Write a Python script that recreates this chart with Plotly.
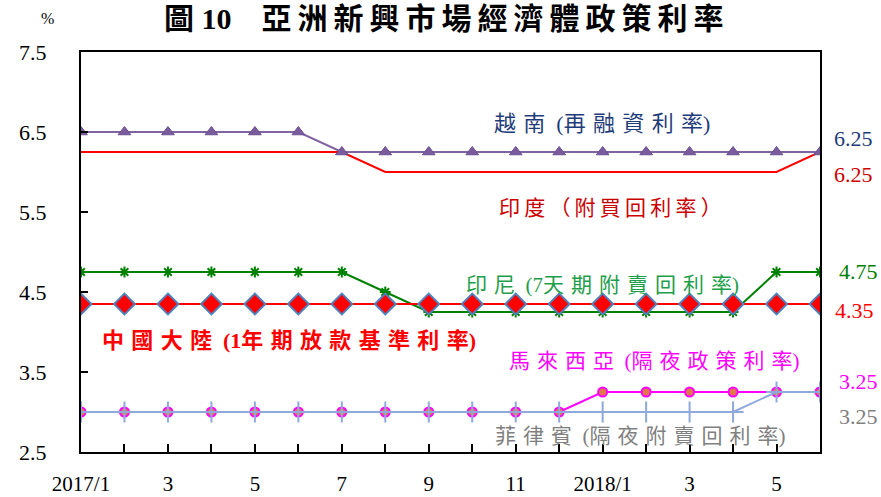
import plotly.graph_objects as go

# Monthly observations, 2017/1 - 2018/6
months = ["2017/1", "2", "3", "4", "5", "6", "7", "8", "9", "10", "11", "12",
          "2018/1", "2", "3", "4", "5", "6"]
tick_labels = ["2017/1", "", "3", "", "5", "", "7", "", "9", "", "11", "",
               "2018/1", "", "3", "", "5", ""]

vietnam = [6.5] * 6 + [6.25] * 12
india = [6.25] * 7 + [6.0] * 10 + [6.25]
indonesia = [4.75] * 7 + [4.5] + [4.25] * 8 + [4.75] * 2
china = [4.35] * 18
malaysia = [3.0] * 12 + [3.25] * 6
philippines = [3.0] * 16 + [3.25] * 2

x = list(range(len(months)))

FONT = "Liberation Serif, Noto Sans CJK TC, serif"
W, H = 881, 497
L, R, T, B = 81, 61, 52, 45
THIN = "\u2009"
WIDE = "\u2004"
EN = "\u2002"


def px_x(p):
    return (p - L) / (W - L - R)


def px_y(p):
    return (H - B - p) / (H - T - B)


def spaced(s, gap=THIN):
    """Open up CJK text a little, in the style of the printed report."""
    out = []
    for i, ch in enumerate(s):
        if ch == " ":
            out.append(EN)
            continue
        out.append(ch)
        if i < len(s) - 1 and ord(ch) > 0x2E80 and ord(s[i + 1]) > 0x2E80:
            out.append(gap)
    return "".join(out)


fig = go.Figure()

fig.add_trace(go.Scatter(x=x, y=india, mode="lines",
                         line=dict(color="#FF0000", width=2), name="India"))
fig.add_trace(go.Scatter(x=x, y=vietnam, mode="lines+markers",
                         line=dict(color="#8064A2", width=2),
                         marker=dict(symbol="triangle-up", size=11, color="#7A5C9E",
                                     line=dict(color="#6A4F8E", width=1)),
                         name="Vietnam"))
fig.add_trace(go.Scatter(x=x, y=indonesia, mode="lines+markers",
                         line=dict(color="#008000", width=2),
                         marker=dict(symbol="asterisk-open", size=9,
                                     line=dict(color="#008000", width=2)),
                         name="Indonesia"))
fig.add_trace(go.Scatter(x=x, y=china, mode="lines+markers",
                         line=dict(color="#FF0000", width=2),
                         marker=dict(symbol="diamond", size=16, color="#FF0000",
                                     line=dict(color="#4F81BD", width=2)),
                         name="China"))
fig.add_trace(go.Scatter(x=x, y=malaysia, mode="lines+markers",
                         line=dict(color="#FF00FF", width=2),
                         marker=dict(symbol="circle", size=9, color="#E0784A",
                                     line=dict(color="#FF00FF", width=2)),
                         name="Malaysia"))
fig.add_trace(go.Scatter(x=x, y=philippines, mode="lines+markers",
                         line=dict(color="#8EA9DB", width=2),
                         marker=dict(symbol="cross-thin-open", size=15,
                                     line=dict(color="#8EA9DB", width=2)),
                         name="Philippines"))

annotations = []

# Series labels inside the plot
inside = [
    ("越南 (再融資利率)", 602, 123, "#1F3C7A", False, 22, WIDE),
    ("印度（附買回利率）", 610, 208, "#CC0000", False, 21, THIN),
    ("印尼 (7天期附賣回利率)", 602, 285, "#1E9E4A", False, 21, WIDE),
    ("中國大陸 (1年期放款基準利率)", 289, 341, "#FF0000", True, 22, WIDE),
    ("馬來西亞 (隔夜政策利率)", 654, 361, "#FF00FF", False, 21, WIDE),
    ("菲律賓 (隔夜附賣回利率)", 640, 436, "#808080", False, 21, WIDE),
]
for text, cx, cy, color, bold, size, gap in inside:
    t = spaced(text, gap)
    annotations.append(dict(
        text=f"<b>{t}</b>" if bold else t,
        x=px_x(cx), y=px_y(cy), xref="paper", yref="paper",
        xanchor="center", yanchor="middle", showarrow=False,
        font=dict(family=FONT, size=size, color=color)))

# Latest values on the right
latest = [
    (f"{vietnam[-1]:.2f}", 832, 138, "#1F3C7A"),
    (f"{india[-1]:.2f}", 832, 174, "#CC0000"),
    (f"{indonesia[-1]:.2f}", 837, 271, "#008000"),
    (f"{china[-1]:.2f}", 833, 310, "#FF0000"),
    (f"{malaysia[-1]:.2f}", 837, 381, "#FF00FF"),
    (f"{philippines[-1]:.2f}", 837, 416, "#808080"),
]
for text, lx, cy, color in latest:
    annotations.append(dict(
        text=text, x=px_x(lx), y=px_y(cy), xref="paper", yref="paper",
        xanchor="left", yanchor="middle", showarrow=False,
        font=dict(family=FONT, size=22, color=color)))

# Title and unit
annotations.append(dict(
    text="<b>圖 10　" + spaced("亞洲新興市場經濟體政策利率") + "</b>",
    x=px_x(444), y=px_y(19), xref="paper", yref="paper",
    xanchor="center", yanchor="middle", showarrow=False,
    font=dict(family=FONT, size=30, color="black")))
annotations.append(dict(
    text="%", x=px_x(47), y=px_y(19), xref="paper", yref="paper",
    xanchor="center", yanchor="middle", showarrow=False,
    font=dict(family=FONT, size=16, color="black")))

fig.update_layout(
    width=W, height=H,
    margin=dict(l=L, r=R, t=T, b=B),
    paper_bgcolor="white", plot_bgcolor="white",
    showlegend=False,
    annotations=annotations,
    xaxis=dict(
        range=[0, len(months) - 1],
        tickmode="array", tickvals=x, ticktext=tick_labels,
        ticks="inside", ticklen=8, tickwidth=2, tickcolor="black",
        showline=True, linecolor="black", linewidth=2, mirror=True,
        showgrid=False, zeroline=False, automargin=False,
        tickfont=dict(family=FONT, size=21, color="black"),
        ticklabelstandoff=12,
    ),
    yaxis=dict(
        range=[2.5, 7.5],
        tickmode="array", tickvals=[2.5, 3.5, 4.5, 5.5, 6.5, 7.5],
        ticktext=["2.5", "3.5", "4.5", "5.5", "6.5", "7.5"],
        ticks="inside", ticklen=7, tickwidth=2, tickcolor="black",
        showline=True, linecolor="black", linewidth=2, mirror=True,
        showgrid=False, zeroline=False, automargin=False,
        tickfont=dict(family=FONT, size=22, color="black"),
        ticklabelstandoff=28,
    ),
)

fig.write_html("out.html")
